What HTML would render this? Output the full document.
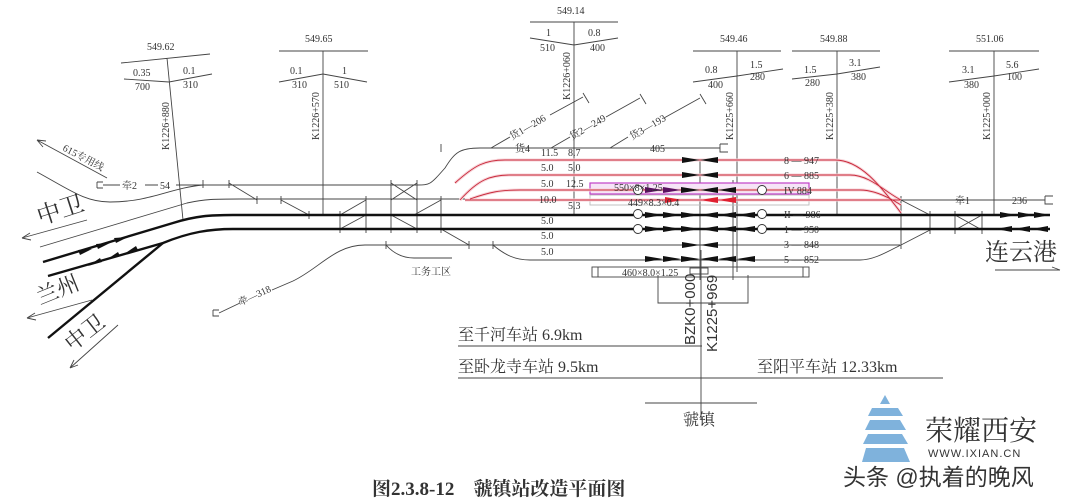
<!DOCTYPE html>
<html><head><meta charset="utf-8"><style>
html,body{margin:0;padding:0;background:#fff}
svg{display:block}
text{font-family:"Liberation Serif","Noto Serif CJK SC",serif;fill:#333}
.s{font-size:10px}
.cj{font-family:"Liberation Serif","Noto Serif CJK SC",serif}
</style></head><body>
<svg width="1080" height="502" viewBox="0 0 1080 502" xmlns="http://www.w3.org/2000/svg">
<defs>
<g id="row" fill="#111"><polygon points="645,0 663,3 645,6"/><polygon points="663,0 681,3 663,6"/><polygon points="681,0 700,3 681,6"/><polygon points="718,0 700,3 718,6"/><polygon points="736,0 718,3 736,6"/><polygon points="755,0 737,3 755,6"/></g>
</defs>
<g stroke="#444" stroke-width="0.9" fill="none">
<path d="M121 63 L210 54 M167 58 L183 220 M124 79 L169 82 L212 74"/>
<path d="M279 51 L368 51 M323 51 L323 215 M279 82 L323 74 L367 82"/>
<path d="M530 22 L618 22 M574 22 L574 215 M530 38 L574 45 L618 38"/>
<path d="M693 51 L781 51 M737 51 L737 272 M693 82 L737 76 L783 69"/>
<path d="M792 51 L880 51 M837 51 L837 215 M792 79 L837 74 L880 67"/>
<path d="M949 51 L1039 51 M994 51 L994 215 M949 82 L994 76 L1039 69"/>
<path d="M37 172 C70 190 85 202 110 202 C150 202 170 188 203 185"/>
<path d="M40 247 L187 203 C205 199 215 199 240 199 L600 199"/>
<path d="M97 182 L97 188 M97 182 L103 182 M97 188 L103 188 M103 185 L120 185 M145 185 L158 185 M176 185 L417 185"/>
<path d="M417 185 C430 185 430 185 445 168 C455 152 460 148 480 148 L720 148"/>
<path d="M720 144 L720 152 L728 152 M720 144 L728 144"/>
<path d="M107 178 L37 140 M37 140 L46 141 M37 140 L43 147"/>
<path d="M87 220 L22 238 M22 238 L30 233 M22 238 L31 240"/>
<path d="M92 300 L27 318 M27 318 L35 313 M27 318 L36 320"/>
<path d="M118 325 L70 368 M70 368 L74 360 M70 368 L78 365"/>
<path d="M213 310 L213 316 L219 316 M213 310 L219 310 M219 313 L240 303 M272 290 L293 281 C320 268 335 245 365 245 L900 245"/>
<path d="M386 245 C395 255 405 258 414 258 L452 258"/>
<path d="M493 245 C505 255 515 260 530 260 L860 260 C875 260 890 250 901 245 L930 230"/>
<path d="M229 183 L257 200 M281 200 L309 215 M340 215 L366 200 M340 229 L366 215 M391 183 L417 200 M391 200 L417 183 M391 215 L417 229 M414 215 L441 200 M441 229 L469 245"/>
<path d="M901 200 L930 215 M955 215 L982 230 M955 230 L982 215"/>
<path d="M880 200 L1045 200 M1045 196 L1045 204 L1053 204 M1045 196 L1053 196"/>
<path d="M995 270 L1060 270 M1060 270 L1052 267"/>
<path d="M203 180 L203 188 M229 180 L229 188 M257 196 L257 204 M281 196 L281 204 M309 211 L309 219 M340 211 L340 233 M366 196 L366 233 M391 180 L391 233 M417 180 L417 233 M441 196 L441 233 M469 241 L469 249 M493 241 L493 249 M386 241 L386 249 M441 144 L441 152 M901 196 L901 249 M930 211 L930 234 M955 211 L955 234 M982 211 L982 234"/>
<path d="M700 160 L700 280 M733 180 L733 280 M658 275 L658 303 L748 303 L748 275"/>
<path d="M701 250 L701 420 M645 403 L757 403"/>
<path d="M458 346 L702 346 M458 378 L943 378"/>
<rect x="592" y="267" width="217" height="10"/>
<path d="M598 267 L598 277 M803 267 L803 277"/>
<rect x="690" y="268" width="18" height="6"/>
<rect x="590" y="195" width="219" height="10" stroke="#bbb"/>
</g>
<rect x="590" y="183" width="219" height="11" fill="#f6e4f7" stroke="#c040c8" stroke-width="1.2"/>
<g stroke="#f7d3d8" stroke-width="3" fill="none">
<path d="M455 183 C475 165 485 160 505 160 L835 160 C860 160 880 185 901 213"/>
<path d="M460 200 C478 180 490 175 510 175 L850 175 C870 175 885 192 901 200"/>
<path d="M465 200 L900 200"/>
<path d="M470 199 C490 192 500 190 520 190 L860 190 C875 190 890 198 901 205"/>
</g>
<g stroke="#c8283a" stroke-width="0.9" fill="none">
<path d="M455 183 C475 165 485 160 505 160 L835 160 C860 160 880 185 901 213"/>
<path d="M460 200 C478 180 490 175 510 175 L850 175 C870 175 885 192 901 200"/>
<path d="M465 200 L900 200"/>
<path d="M470 199 C490 192 500 190 520 190 L860 190 C875 190 890 198 901 205"/>
</g>
<g stroke="#111" stroke-width="2.4" fill="none">
<path d="M43 262 L173 223 C195 216 210 215 233 215 L1050 215"/>
<path d="M48 276 L163 243 C190 232 210 229 233 229 L1050 229"/>
<path d="M48 338 L163 243"/>
</g>
<g fill="#111">
<polygon points="92,249 78,250 80,255"/><polygon points="110,243 96,244 98,249"/><polygon points="128,237 114,238 116,243"/>
<polygon points="88,266 102,262 100,258"/><polygon points="106,260 120,256 118,252"/><polygon points="124,254 138,250 136,246"/>
<polygon points="682,157 700,160 682,163"/><polygon points="718,157 700,160 718,163"/>
<polygon points="682,172 700,175 682,178"/><polygon points="718,172 700,175 718,178"/>
<polygon points="682,242 700,245 682,248"/><polygon points="718,242 700,245 718,248"/>
<polygon points="645,187 663,190 645,193" fill="#5a1060"/><polygon points="663,187 681,190 663,193" fill="#5a1060"/><polygon points="681,187 700,190 681,193"/><polygon points="718,187 700,190 718,193"/><polygon points="736,187 718,190 736,193"/>
<polygon points="665,197 683,200 665,203" fill="#e02030"/><polygon points="718,197 700,200 718,203" fill="#e02030"/><polygon points="736,197 718,200 736,203" fill="#e02030"/>
<polygon points="1000,212 1016,215 1000,218"/><polygon points="1018,212 1034,215 1018,218"/><polygon points="1034,212 1050,215 1034,218"/>
<polygon points="1012,226 996,229 1012,232"/><polygon points="1030,226 1014,229 1030,232"/><polygon points="1048,226 1032,229 1048,232"/>
</g>
<use href="#row" y="212"/><use href="#row" y="226"/><use href="#row" y="256"/>
<g fill="#fff" stroke="#333" stroke-width="0.9">
<circle cx="638" cy="214" r="4.5"/><circle cx="638" cy="229" r="4.5"/><circle cx="762" cy="214" r="4.5"/><circle cx="762" cy="229" r="4.5"/><circle cx="638" cy="190" r="4.5"/><circle cx="762" cy="190" r="4.5"/>
</g>
<g stroke="#444" stroke-width="0.9" fill="none">
<path d="M491 148 L510 137 M550 115 L583 97 M583 93 L589 103"/>
<path d="M551 148 L570 137 M606 117 L640 98 M640 94 L646 104"/>
<path d="M610 148 L628 137 M664 118 L700 98 M700 94 L706 104"/>
</g>
<g class="s">
<text x="147" y="50">549.62</text>
<text x="133" y="76">0.35</text><text x="135" y="90">700</text><text x="183" y="74">0.1</text><text x="183" y="88">310</text>
<text x="305" y="42">549.65</text>
<text x="290" y="74">0.1</text><text x="292" y="88">310</text><text x="342" y="74">1</text><text x="334" y="88">510</text>
<text x="557" y="14">549.14</text>
<text x="546" y="36">1</text><text x="540" y="51">510</text><text x="588" y="36">0.8</text><text x="590" y="51">400</text>
<text x="720" y="42">549.46</text>
<text x="705" y="73">0.8</text><text x="708" y="88">400</text><text x="750" y="68">1.5</text><text x="750" y="80">280</text>
<text x="820" y="42">549.88</text>
<text x="804" y="73">1.5</text><text x="805" y="86">280</text><text x="849" y="66">3.1</text><text x="851" y="80">380</text>
<text x="976" y="42">551.06</text>
<text x="962" y="73">3.1</text><text x="964" y="88">380</text><text x="1006" y="68">5.6</text><text x="1007" y="80">100</text>
<text transform="translate(169,150) rotate(-90)">K1226+880</text>
<text transform="translate(319,140) rotate(-90)">K1226+570</text>
<text transform="translate(570,100) rotate(-90)">K1226+060</text>
<text transform="translate(733,140) rotate(-90)">K1225+660</text>
<text transform="translate(833,140) rotate(-90)">K1225+380</text>
<text transform="translate(990,140) rotate(-90)">K1225+000</text>
<text x="122" y="189">牵2</text><text x="160" y="189">54</text>
<text x="955" y="204">牵1</text><text x="1012" y="204">236</text>
<text transform="translate(62,150) rotate(28)">615专用线</text>
<text transform="translate(240,306) rotate(-25)">牵—318</text>
<text x="411" y="275">工务工区</text>
<text x="515" y="152">货4</text><text x="650" y="152">405</text>
<text transform="translate(512,140) rotate(-30)">货1—206</text>
<text transform="translate(572,140) rotate(-30)">货2—249</text>
<text transform="translate(632,140) rotate(-30)">货3—193</text>
<text x="541" y="156">11.5</text><text x="568" y="156" fill="#c44">8.7</text>
<text x="541" y="171">5.0</text><text x="568" y="171" fill="#c44">5.0</text>
<text x="541" y="187">5.0</text><text x="566" y="187" fill="#a3a">12.5</text>
<text x="539" y="203">10.0</text><text x="568" y="209" fill="#999">5.3</text>
<text x="541" y="224">5.0</text><text x="541" y="239">5.0</text><text x="541" y="255">5.0</text>
<text x="614" y="191" fill="#a4a">550×8×1.25</text>
<text x="628" y="206">449×8.3×0.4</text>
<text x="622" y="276">460×8.0×1.25</text>
<text x="784" y="164">8 — 947</text><text x="784" y="179">6 — 885</text><text x="784" y="194">IV  884</text>
<text x="784" y="218">II — 986</text><text x="784" y="233">1 — 950</text><text x="784" y="248">3 — 848</text><text x="784" y="263">5 — 852</text>
</g>
<text transform="translate(695,345) rotate(-90)" font-size="15" style="font-family:'Liberation Sans',sans-serif">BZK0+000</text>
<text transform="translate(717,352) rotate(-90)" font-size="15" style="font-family:'Liberation Sans',sans-serif">K1225+969</text>
<text x="458" y="340" font-size="16" fill="#222">至千河车站 6.9km</text>
<text x="458" y="372" font-size="16" fill="#222">至卧龙寺车站 9.5km</text>
<text x="757" y="372" font-size="16" fill="#222">至阳平车站 12.33km</text>
<text x="683" y="425" font-size="16" fill="#222">虢镇</text>
<text transform="translate(40,225) rotate(-18)" font-size="24" fill="#222">中卫</text>
<text transform="translate(40,305) rotate(-22)" font-size="22" fill="#222">兰州</text>
<text transform="translate(72,352) rotate(-38)" font-size="22" fill="#222">中卫</text>
<text x="985" y="260" font-size="24" fill="#222">连云港</text>
<text x="372" y="495" font-size="19" font-weight="bold" fill="#111">图2.3.8-12　虢镇站改造平面图</text>
<g fill="#7fb2dc">
<polygon points="885,395 890,404 880,404"/>
<polygon points="872,408 898,408 903,416 868,416"/>
<polygon points="870,420 900,420 906,430 865,430"/>
<polygon points="868,434 902,434 908,444 863,444"/>
<polygon points="866,448 904,448 910,462 862,462"/>
</g>
<text x="925" y="440" font-size="28" fill="#6a6a6a">荣耀西安</text>
<text x="928" y="457" font-size="11" style="font-family:'Liberation Sans',sans-serif" fill="#666" letter-spacing="1">WWW.IXIAN.CN</text>
<text x="843" y="485" font-size="23" style="font-family:'Liberation Sans','Noto Sans CJK SC',sans-serif" fill="#111">头条 @执着的晚风</text>
</svg>
</body></html>
